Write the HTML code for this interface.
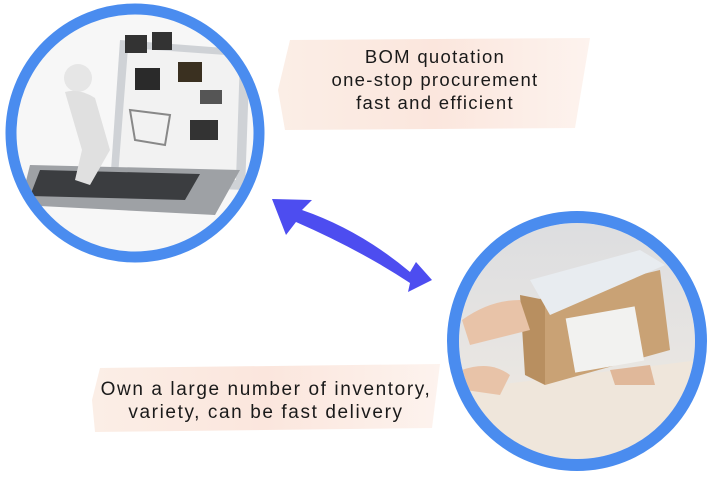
<!DOCTYPE html>
<html><head><meta charset="utf-8"><style>
html,body{margin:0;padding:0;background:#fff;}
body{width:720px;height:480px;position:relative;overflow:hidden;font-family:"Liberation Sans",sans-serif;}
.t{position:absolute;text-align:center;color:#1a1a1a;line-height:23px;white-space:nowrap;}
</style></head><body>
<svg width="720" height="480" style="position:absolute;left:0;top:0">
<defs>
<linearGradient id="pk" x1="0" x2="1"><stop offset="0" stop-color="#fbeee6"/><stop offset="0.5" stop-color="#fbe6dd"/><stop offset="1" stop-color="#fdf3ee"/></linearGradient>
<linearGradient id="bg2" x1="0" y1="0" x2="0" y2="1"><stop offset="0" stop-color="#dcdde0"/><stop offset="0.6" stop-color="#e9e6e2"/><stop offset="1" stop-color="#f4ece2"/></linearGradient>
<clipPath id="c1"><circle cx="135" cy="133" r="120"/></clipPath>
<clipPath id="c2"><circle cx="577" cy="341" r="118"/></clipPath>
</defs>
<path d="M290 40 L590 38 L575 128 L285 130 L278 90 Z" fill="url(#pk)"/>
<path d="M100 368 L440 364 L432 428 L95 432 L92 400 Z" fill="url(#pk)"/>
<g clip-path="url(#c1)">
<rect x="0" y="0" width="270" height="270" fill="#f7f7f7"/>
<path d="M120 40 L250 50 L245 190 L110 185 Z" fill="#cfd2d6"/>
<path d="M128 48 L240 56 L236 180 L118 176 Z" fill="#f2f2f2"/>
<path d="M30 165 L240 170 L215 215 L20 205 Z" fill="#9ea1a5"/>
<path d="M40 170 L200 174 L185 200 L30 196 Z" fill="#3b3d40"/>
<rect x="125" y="35" width="22" height="18" fill="#333"/><rect x="152" y="32" width="20" height="18" fill="#333"/>
<rect x="135" y="68" width="25" height="22" fill="#2a2a2a"/><rect x="178" y="62" width="24" height="20" fill="#3a3020"/>
<rect x="190" y="120" width="28" height="20" fill="#333"/><rect x="200" y="90" width="22" height="14" fill="#555"/>
<circle cx="78" cy="78" r="14" fill="#e6e6e6"/><path d="M65 92 Q80 88 95 98 L110 150 L90 185 L75 180 L82 150 Z" fill="#e0e0e0"/>
<path d="M130 110 L170 115 L165 145 L135 140 Z" fill="none" stroke="#888" stroke-width="2"/>
</g>
<circle cx="135" cy="133" r="124" fill="none" stroke="#4a8cef" stroke-width="11"/>
<g clip-path="url(#c2)">
<rect x="450" y="215" width="260" height="260" fill="url(#bg2)"/>
<path d="M455 390 L700 360 L700 470 L455 470 Z" fill="#efe6db"/>
<path d="M535 300 L660 270 L670 350 L545 385 Z" fill="#c9a275"/>
<path d="M520 295 L545 300 L545 385 L525 375 Z" fill="#b88f60"/>
<rect x="570" y="312" width="70" height="55" fill="#f2f2f0" transform="rotate(-10 605 340)"/>
<path d="M530 280 L640 250 L665 265 L550 315 Z" fill="#e8ecf0"/>
<path d="M462 320 Q490 300 520 300 L530 330 L470 345 Z" fill="#e8c3a8"/>
<path d="M462 370 Q490 360 510 375 L500 395 L465 390 Z" fill="#e8c3a8"/>
<path d="M610 370 L650 365 L655 385 L615 385 Z" fill="#e0b89a"/>
</g>
<circle cx="577" cy="341" r="124" fill="none" stroke="#4a8cef" stroke-width="12"/>
<path d="M272 199 L312 200 L302 210 Q360 230 410 272 L416 262 L432 280 L408 292 L410 283 Q360 250 296 222 L286 235 Z" fill="#4d4df0"/>
</svg>
<div class="t" style="left:280px;top:45px;width:310px;font-size:18.5px;letter-spacing:1.3px;">BOM quotation<br>one-stop procurement<br>fast and efficient</div>
<div class="t" style="left:92px;top:378px;width:348px;font-size:19px;letter-spacing:1.6px;">Own a large number of inventory,<br>variety, can be fast delivery</div>
</body></html>
